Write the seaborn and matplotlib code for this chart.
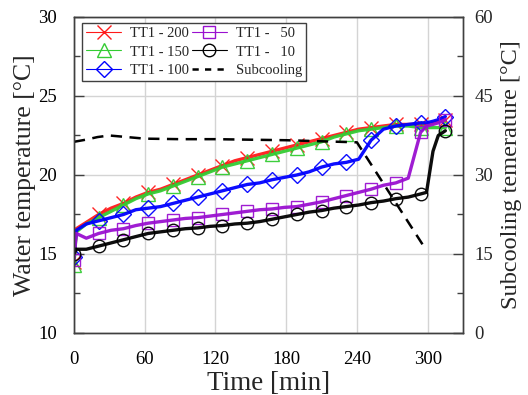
import numpy as np
import pandas as pd
import matplotlib
matplotlib.use("Agg")
import matplotlib.pyplot as plt
from matplotlib.lines import Line2D
from matplotlib.ticker import MultipleLocator
import seaborn as sns

# ---------------- data ----------------
TIME = [0, 2, 10.5, 21, 31.5, 42, 52.5, 63, 73.5, 84, 94.5, 105, 115.5, 126,
        136.5, 147, 157.5, 168, 178.5, 189, 199.5, 210, 220.5, 231, 241.5,
        252, 262.5, 273, 283.5, 294, 299, 304.5, 309, 315]
# indices of TIME that carry a marker (every ~21 min)
MARK_IDX = [0, 3, 5, 7, 9, 11, 13, 15, 17, 19, 21, 23, 25, 27, 29, 33]

TT1_200 = [14.5, 16.6, 17.0, 17.5, 17.9, 18.2, 18.6, 18.9, 19.1, 19.4, 19.7,
           20.0, 20.3, 20.6, 20.9, 21.1, 21.3, 21.5, 21.7, 21.9, 22.1, 22.3,
           22.5, 22.7, 22.9, 23.0, 23.1, 23.2, 23.2, 23.2, 23.2, 23.3, 23.4, 23.5]
TT1_150 = [14.3, 16.4, 16.9, 17.3, 17.7, 18.1, 18.5, 18.8, 19.0, 19.3, 19.6,
           19.9, 20.2, 20.5, 20.7, 20.9, 21.1, 21.3, 21.5, 21.7, 21.9, 22.1,
           22.4, 22.6, 22.8, 22.9, 23.0, 23.1, 23.1, 23.0, 23.0, 23.0, 23.0, 23.0]
TT1_100 = [14.8, 16.5, 16.9, 17.1, 17.3, 17.5, 17.8, 17.9, 18.0, 18.2, 18.4,
           18.6, 18.8, 19.0, 19.2, 19.4, 19.5, 19.7, 19.85, 20.0, 20.2, 20.5,
           20.7, 20.8, 21.0, 22.2, 22.9, 23.1, 23.2, 23.3, 23.3, 23.4, 23.5, 23.7]
TT1_50 = [14.6, 16.3, 16.0, 16.3, 16.5, 16.6, 16.8, 16.95, 17.05, 17.15, 17.25,
          17.3, 17.4, 17.5, 17.6, 17.7, 17.8, 17.85, 17.95, 18.0, 18.15, 18.3,
          18.5, 18.7, 18.9, 19.1, 19.35, 19.5, 19.8, 22.7, 23.1, 23.2, 23.3, 23.5]
TT1_10 = [15.0, 15.3, 15.3, 15.5, 15.7, 15.9, 16.1, 16.3, 16.4, 16.5, 16.6,
          16.65, 16.75, 16.8, 16.9, 16.95, 17.05, 17.2, 17.35, 17.5, 17.65,
          17.75, 17.9, 18.0, 18.1, 18.25, 18.35, 18.5, 18.6, 18.8, 18.9, 21.5,
          22.5, 22.8]

SUB_TIME = [0, 10, 20, 30, 40, 60, 90, 120, 150, 180, 210, 240, 298]
SUBCOOLING = [36.3, 36.7, 37.2, 37.5, 37.3, 36.9, 36.8, 36.8, 36.7, 36.6,
              36.4, 36.2, 16.0]

SERIES = ["TT1 - 200", "TT1 - 150", "TT1 - 100", "TT1 -   50", "TT1 -   10"]
VALUES = [TT1_200, TT1_150, TT1_100, TT1_50, TT1_10]
COLORS = ["#ff1a1a", "#33cc33", "#0000ff", "#9a10d0", "#000000"]
MARKERS = ["x", "^", "D", "s", "o"]
MSIZES = [10, 9.5, 8, 9, 9]

X_TICKS = [0, 60, 120, 180, 240, 300]
Y_TICKS = [10, 15, 20, 25, 30]
Y2_TICKS = [0, 15, 30, 45, 60]

# ---------------- style ----------------
sns.set_theme(style="white")
plt.rcParams["font.family"] = ["Liberation Serif", "DejaVu Serif"]
plt.rcParams["mathtext.fontset"] = "stix"

fig, ax = plt.subplots(figsize=(5.28, 3.95), dpi=100)
fig.subplots_adjust(left=0.140, right=0.877, bottom=0.157, top=0.957)
ax2 = ax.twinx()

for name, vals, col, mk, ms in zip(SERIES, VALUES, COLORS, MARKERS, MSIZES):
    df = pd.DataFrame({"Time": TIME, "T": vals})
    sns.lineplot(data=df, x="Time", y="T", ax=ax, color=col, lw=2.4,
                 marker=mk, markersize=ms, markevery=MARK_IDX,
                 markerfacecolor="none", markeredgecolor=col,
                 markeredgewidth=1.0, alpha=0.95, sort=False)

dsub = pd.DataFrame({"Time": SUB_TIME, "S": SUBCOOLING})
sns.lineplot(data=dsub, x="Time", y="S", ax=ax2, color="black", lw=1.8,
             linestyle=(0, (4.5, 3)), sort=False)

# ---------------- axes ----------------
ax.set_xlim(0, 330)
ax.set_ylim(10, 30)
ax2.set_ylim(0, 60)
ax.set_xticks(X_TICKS)
ax.set_yticks(Y_TICKS)
ax2.set_yticks(Y2_TICKS)
ax.xaxis.set_minor_locator(MultipleLocator(30))
ax.yaxis.set_minor_locator(MultipleLocator(2.5))
ax2.yaxis.set_minor_locator(MultipleLocator(7.5))

ax.grid(True, which="major", color="#d4d4d4", lw=1.0)
ax.set_axisbelow(True)

spine_col = "#404040"
for a in (ax, ax2):
    for s in a.spines.values():
        s.set_color(spine_col)
        s.set_linewidth(1.0)

ax.tick_params(axis="both", which="major", direction="in", length=7,
               width=1.0, color=spine_col, labelsize=13.5,
               labelcolor="black")
ax.tick_params(axis="x", which="major", pad=13)
ax.tick_params(axis="y", which="major", pad=12)
ax.tick_params(axis="both", which="minor", direction="in", length=4,
               width=1.0, color=spine_col)
ax.tick_params(axis="y", right=False, which="both")
ax.tick_params(axis="x", top=False, which="both")
ax2.tick_params(axis="y", which="major", direction="in", length=7,
                width=1.0, color=spine_col, labelsize=13.5, pad=8)
ax2.tick_params(axis="y", which="minor", direction="in", length=4,
                width=1.0, color=spine_col)

ax.set_xlabel("Time [min]", fontsize=19.5, labelpad=2)
ax.set_ylabel("Water temperature [°C]", fontsize=18.5, labelpad=2)
ax2.set_ylabel("Subcooling temerature [°C]", fontsize=17.5, labelpad=6)

# ---------------- legend ----------------
handles = []
for name, col, mk, ms in zip(SERIES, COLORS, MARKERS, MSIZES):
    handles.append(Line2D([], [], color=col, lw=0.8, marker=mk, markersize=ms,
                          markerfacecolor="none", markeredgecolor=col,
                          markeredgewidth=1.0, label=name))
handles.append(Line2D([], [], color="black", lw=1.8, linestyle=(0, (2.5, 2.5)),
                      label="Subcooling"))
leg = ax2.legend(handles=handles, loc="upper left",
                 bbox_to_anchor=(0.02, 0.982), borderaxespad=0, ncol=2,
                 fontsize=10.5, frameon=True, fancybox=False, framealpha=1,
                 edgecolor="#404040", handlelength=2.4, handletextpad=0.6,
                 columnspacing=0.2, labelspacing=0.35, borderpad=0.3)
leg.get_frame().set_linewidth(1.0)

fig.savefig("out.png", dpi=100)
